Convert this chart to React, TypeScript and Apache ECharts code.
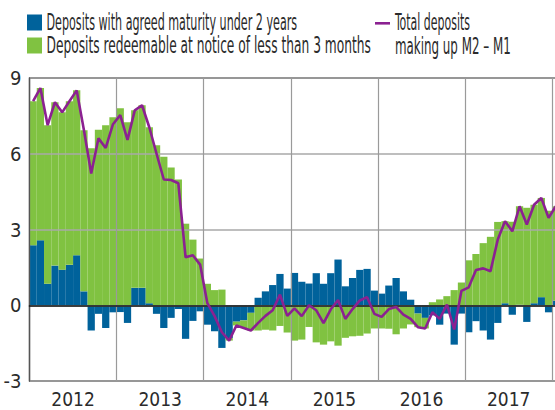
import React, { useEffect, useRef } from "react";
import * as echarts from "echarts";

const years = ["2012", "2013", "2014", "2015", "2016", "2017", "2018"];
const monthNames = ["01", "02", "03", "04", "05", "06", "07", "08", "09", "10", "11", "12"];

const blueValues = [
  2.38, 2.57, 0.85, 1.57, 1.41, 1.6, 1.98, 0.55, -1.0, -0.34, -0.9, -0.28,
  -0.27, -0.7, 0.69, 0.69, 0.08, -0.34, -0.9, -0.5, -0.15, -1.33, -0.62, -0.24,
  -0.77, -1.03, -1.69, -1.3, -0.65, -0.6, -0.3, 0.3, 0.55, 0.8, 1.24, 0.66,
  1.28, 0.93, 0.86, 1.27, 0.85, 1.27, 1.81, 0.75, 1.08, 1.4, 1.44, 0.58,
  0.46, 0.78, 1.08, 0.55, 0.22, -0.33, -0.5, -0.4, -0.77, -0.33, -1.56, -0.33,
  -1.07, -0.63, -1.0, -1.36, -0.7, 0.08, -0.38, 0.02, -0.66, 0.08, 0.32, -0.28,
  0.18,
];

const greenValues = [
  5.7, 6.03, 6.28, 6.47, 6.23, 6.48, 6.53, 6.38, 6.22, 6.95, 7.13, 7.45,
  7.8, 7.25, 7.03, 7.23, 6.97, 6.34, 5.88, 5.46, 4.98, 3.23, 2.6, 1.85,
  0.85, 0.6, 0.62, -0.1, -0.15, -0.3, -0.7, -1.0, -0.97, -1.0, -0.82, -1.08,
  -1.4, -1.36, -0.86, -1.47, -1.56, -1.43, -1.6, -1.29, -1.23, -1.21, -1.12, -0.92,
  -0.92, -0.93, -1.15, -0.92, -0.76, -0.54, -0.42, 0.12, 0.23, 0.36, 0.6, 0.9,
  1.78, 2.03, 2.46, 2.71, 3.3, 3.25, 3.31, 3.9, 3.86, 3.9, 3.93, 3.74,
  3.74,
];

const totalValues = [
  8.08, 8.6, 7.13, 8.04, 7.64, 8.08, 8.51, 6.93, 5.22, 6.61, 6.23, 7.17,
  7.53, 6.55, 7.72, 7.92, 7.05, 6.0, 4.98, 4.96, 4.83, 1.9, 1.98, 1.61,
  0.08, -0.43, -1.07, -1.4, -0.8, -0.9, -1.0, -0.7, -0.42, -0.2, 0.42, -0.42,
  -0.12, -0.43, 0.0, -0.2, -0.71, -0.16, 0.21, -0.54, -0.15, 0.19, 0.32, -0.34,
  -0.46, -0.15, -0.07, -0.37, -0.54, -0.87, -0.92, -0.28, -0.54, 0.03, -0.96, 0.57,
  0.71, 1.4, 1.46, 1.35, 2.6, 3.33, 2.93, 3.92, 3.2, 3.98, 4.25, 3.46,
  3.92,
];

const categories: string[] = [];
years.forEach((y) => monthNames.forEach((m) => categories.push(`${y}-${m}`)));
const monthCategories = categories.slice(0, blueValues.length);

const yearLabels = ["2012", "2013", "2014", "2015", "2016", "2017"];
const yearLabelMonths = [6, 18, 30, 42, 54, 66];

const legendLabels = [
  "Deposits with agreed maturity under 2 years",
  "Deposits redeemable at notice of less than 3 months",
];
const lineLegendLabels = ["Total deposits", "making up M2 \u2013 M1"];

const BLUE = "#00629b";
const GREEN = "#80c241";
const PURPLE = "#8b2191";
const TEXT = "#2b2b2b";
const FONT = "'Liberation Sans Narrow', 'DejaVu Sans Condensed', 'Liberation Sans', sans-serif";

export default function App() {
  const ref = useRef<HTMLDivElement>(null);

  useEffect(() => {
    if (!ref.current) return;
    const chart = echarts.init(ref.current, null, { renderer: "svg" });
    const monthW = 7.26;
    const n = monthCategories.length;
    const legendText = (text: string, x: number, y: number, scaleX: number) => ({
      type: "text",
      x,
      y,
      scaleX,
      scaleY: 1.18,
      style: { text, fontSize: 20, fontFamily: FONT, fill: TEXT, verticalAlign: "middle" },
    });
    chart.setOption({
      animation: false,
      grid: {
        left: 29.5,
        top: 78,
        width: monthW * n,
        height: 303,
        show: true,
        borderColor: "#333",
        borderWidth: 1.3,
        backgroundColor: "transparent",
      },
      xAxis: [
        {
          type: "category",
          data: monthCategories,
          boundaryGap: true,
          z: 4,
          axisLine: { show: true, onZero: true, lineStyle: { color: "#151515", width: 1.6 } },
          axisTick: { show: false },
          axisLabel: { show: false },
          splitLine: { show: false },
        },
        {
          type: "value",
          min: 0,
          max: n,
          interval: 12,
          position: "bottom",
          z: 3,
          axisLine: { show: false },
          axisTick: { show: false },
          axisLabel: {
            show: true,
            customValues: yearLabelMonths,
            formatter: (v: number) => yearLabels[yearLabelMonths.indexOf(Math.round(v))] ?? "",
            fontSize: 19,
            fontFamily: FONT,
            color: TEXT,
            margin: 8,
            lineHeight: 19,
          },
          splitLine: { show: true, lineStyle: { color: "#9a9a9a", width: 1.2 } },
        },
      ],
      yAxis: {
        type: "value",
        min: -3,
        max: 9,
        interval: 3,
        z: 3,
        axisLine: { show: true, lineStyle: { color: "#555", width: 1.2 } },
        axisTick: { show: false },
        axisLabel: { fontSize: 20, fontFamily: FONT, color: TEXT, margin: 8 },
        splitLine: { show: true, lineStyle: { color: "#a8a8a8", width: 1.5 } },
      },
      series: [
        {
          name: legendLabels[0],
          type: "bar",
          stack: "dep",
          data: blueValues,
          barCategoryGap: "0%",
          itemStyle: { color: BLUE },
          z: 2,
        },
        {
          name: legendLabels[1],
          type: "bar",
          stack: "dep",
          data: greenValues,
          barCategoryGap: "0%",
          itemStyle: { color: GREEN },
          z: 2,
        },
        {
          name: lineLegendLabels.join(" "),
          type: "line",
          data: totalValues,
          symbol: "none",
          z: 6,
          lineStyle: { color: PURPLE, width: 2.6 },
        },
      ],
      graphic: [
        { type: "rect", shape: { x: 27, y: 14.5, width: 15, height: 16 }, style: { fill: BLUE } },
        { type: "rect", shape: { x: 27, y: 37.5, width: 15, height: 16 }, style: { fill: GREEN } },
        legendText(legendLabels[0], 46.5, 22, 0.62),
        legendText(legendLabels[1], 46.5, 45.5, 0.68),
        { type: "line", shape: { x1: 375, y1: 23.3, x2: 390, y2: 23.3 }, style: { stroke: PURPLE, lineWidth: 2.6 } },
        legendText(lineLegendLabels[0], 395, 22, 0.61),
        legendText(lineLegendLabels[1], 395, 45.5, 0.66),
      ],
    });
    return () => chart.dispose();
  }, []);

  return (
    <div
      style={{
        position: "fixed",
        left: 0,
        top: 0,
        width: 555,
        height: 410,
        overflow: "hidden",
        background: "#fff",
      }}
    >
      <div ref={ref} style={{ width: 575, height: 410 }} />
    </div>
  );
}
